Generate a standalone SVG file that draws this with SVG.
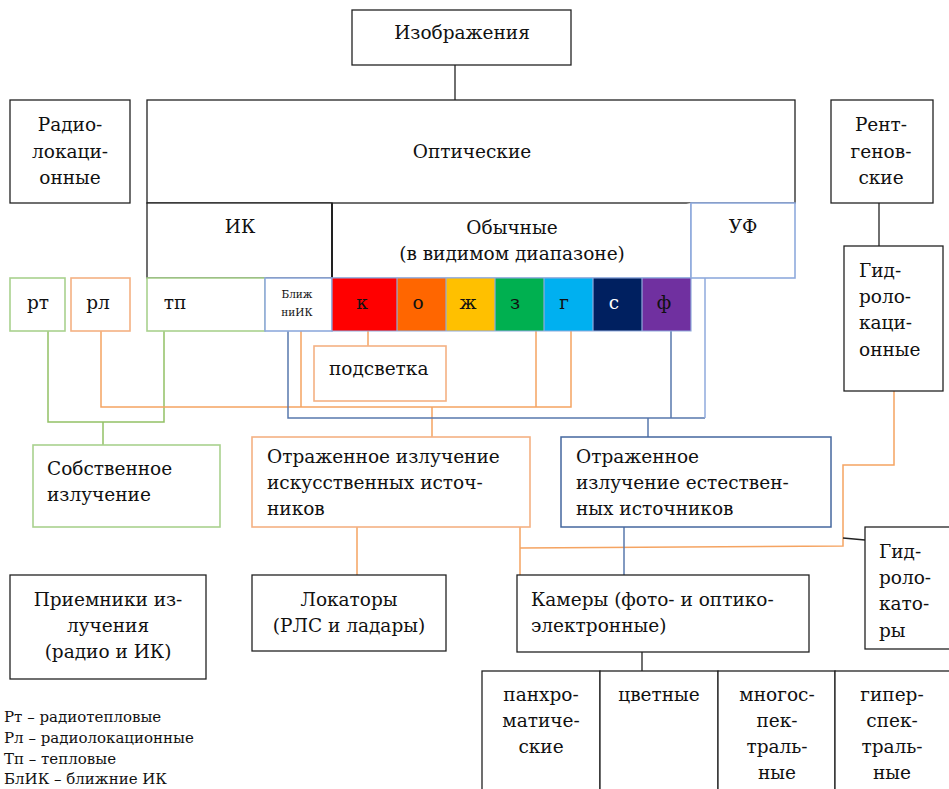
<svg xmlns="http://www.w3.org/2000/svg" width="949" height="789" viewBox="0 0 949 789">
  <style>
    text { font-family: 'DejaVu Serif', 'Liberation Serif', serif; font-size: 18.5px; fill: #111; }
    .c { text-anchor: middle; }
    .box { fill: #fff; stroke: #222; stroke-width: 1.3; }
    .gbox { fill: #fff; stroke: #A9D18E; stroke-width: 1.6; }
    .obox { fill: #fff; stroke: #F4B183; stroke-width: 1.6; }
    .bbox { fill: #fff; stroke: #8FAADC; stroke-width: 1.6; }
    .dbox { fill: #fff; stroke: #44679E; stroke-width: 1.5; }
    .gl { fill: none; stroke: #92C165; stroke-width: 1.5; }
    .ol { fill: none; stroke: #F5A462; stroke-width: 1.5; }
    .bl { fill: none; stroke: #5878AD; stroke-width: 1.5; }
    .bll { fill: none; stroke: #8FAADC; stroke-width: 1.5; }
    .kl { fill: none; stroke: #222; stroke-width: 1.3; }
    .small { font-size: 10.5px; }
    .leg { font-size: 15px; }
  </style>

  <!-- connectors -->
  <g id="connectors">
    <path class="kl" d="M455 65 V100"/>
    <path class="kl" d="M879 203 V246"/>
    <!-- own radiation -->
    <path class="gl" d="M48 331 V422 H164 V331 M103 422 V445"/>
    <!-- artificial sources -->
    <path class="ol" d="M101 331 V407 H571 V331 M301 331 V407 M536 331 V407 M368 331 V346 M432 407 V437"/>
    <!-- natural sources -->
    <path class="bl" d="M288 331 V418 H705 M671 331 V418 M648 418 V437"/>
    <path class="bll" d="M705 278 V418"/>
    <!-- to locators / cameras / hydro -->
    <path class="ol" d="M357 527 V575 M520 527 V575 M520 548 L843 546 V465 H894 V391"/>
    <path class="bl" d="M624 527 V575"/>
    <path class="kl" d="M843 538 L865 540"/>
    <path class="kl" d="M642 652 V671"/>
  </g>

  <g id="n-images">
    <rect class="box" x="352" y="10" width="219" height="55"/>
    <text class="c" x="462" y="39">Изображения</text>
  </g>

  <g id="n-optical">
    <rect class="box" x="147" y="100" width="648" height="103"/>
    <text class="c" x="472" y="158">Оптические</text>
  </g>

  <g id="n-radio">
    <rect class="box" x="10" y="100" width="120" height="103"/>
    <text class="c" x="70" y="131">Радио-</text>
    <text class="c" x="70" y="158">локаци-</text>
    <text class="c" x="70" y="184">онные</text>
  </g>

  <g id="n-xray">
    <rect class="box" x="831" y="100" width="102" height="103"/>
    <text class="c" x="881" y="131">Рент-</text>
    <text class="c" x="881" y="158">генов-</text>
    <text class="c" x="881" y="184">ские</text>
  </g>

  <g id="n-ir">
    <rect class="box" x="147" y="203" width="185" height="75"/>
    <text class="c" x="240" y="233">ИК</text>
  </g>

  <g id="n-visible">
    <path fill="#fff" stroke="#8FAADC" stroke-width="1.6" d="M332 278 H691 V203"/>
    <path fill="none" stroke="#222" stroke-width="2" d="M332 203 V278"/>
    <text class="c" x="512" y="234">Обычные</text>
    <text class="c" x="512" y="260">(в видимом диапазоне)</text>
  </g>

  <g id="n-uv">
    <rect class="bbox" x="691" y="203" width="104" height="75"/>
    <text class="c" x="743" y="233">УФ</text>
  </g>

  <g id="n-hydroloc">
    <rect class="box" x="844" y="246" width="99" height="145"/>
    <text x="859" y="277">Гид-</text>
    <text x="859" y="303">роло-</text>
    <text x="859" y="329">каци-</text>
    <text x="859" y="356">онные</text>
  </g>

  <g id="n-rt">
    <rect class="gbox" x="10" y="278" width="55" height="53"/>
    <text class="c" x="38" y="309">рт</text>
  </g>
  <g id="n-rl">
    <rect class="obox" x="71" y="278" width="59" height="53"/>
    <text class="c" x="98" y="309">рл</text>
  </g>
  <g id="n-tp">
    <rect class="gbox" x="147" y="278" width="118" height="53"/>
    <text class="c" x="175" y="309">тп</text>
  </g>
  <g id="n-nir">
    <rect class="bbox" x="265" y="278" width="67" height="53"/>
    <text class="c small" x="297" y="298">Ближ</text>
    <text class="c small" x="297" y="316">ниИК</text>
  </g>

  <!-- visible spectrum cells -->
  <g id="n-spectrum">
    <rect x="332" y="278" width="65" height="53" fill="#FF0000"/>
    <rect x="397" y="278" width="49" height="53" fill="#FF6600"/>
    <rect x="446" y="278" width="49" height="53" fill="#FFC000"/>
    <rect x="495" y="278" width="49" height="53" fill="#00B050"/>
    <rect x="544" y="278" width="49" height="53" fill="#00B0F0"/>
    <rect x="593" y="278" width="49" height="53" fill="#002060"/>
    <rect x="642" y="278" width="49" height="53" fill="#7030A0"/>
    <path fill="none" stroke="#8FAADC" stroke-width="1.2" d="M332 278 H691 V331 H332 Z M397 278 V331 M446 278 V331 M495 278 V331 M544 278 V331 M593 278 V331 M642 278 V331"/>
    <text class="c" x="362" y="309">к</text>
    <text class="c" x="418" y="309">о</text>
    <text class="c" x="468" y="309">ж</text>
    <text class="c" x="515" y="309">з</text>
    <text class="c" x="564" y="309">г</text>
    <text class="c" x="614" y="309" style="fill:#fff">с</text>
    <text class="c" x="664" y="309">ф</text>
  </g>

  <g id="n-backlight">
    <rect class="obox" x="314" y="346" width="132" height="55"/>
    <text x="329" y="375">подсветка</text>
  </g>

  <g id="n-own">
    <rect class="gbox" x="33" y="445" width="187" height="82"/>
    <text x="47" y="475">Собственное</text>
    <text x="47" y="501">излучение</text>
  </g>

  <g id="n-artificial">
    <rect class="obox" x="252" y="437" width="278" height="90"/>
    <text x="267" y="463">Отраженное излучение</text>
    <text x="267" y="489">искусственных источ-</text>
    <text x="267" y="515">ников</text>
  </g>

  <g id="n-natural">
    <rect class="dbox" x="561" y="437" width="270" height="90"/>
    <text x="576" y="463">Отраженное</text>
    <text x="576" y="489">излучение естествен-</text>
    <text x="576" y="515">ных источников</text>
  </g>

  <g id="n-receivers">
    <rect class="box" x="10" y="575" width="196" height="104"/>
    <text class="c" x="108" y="606">Приемники из-</text>
    <text class="c" x="108" y="632">лучения</text>
    <text class="c" x="108" y="658">(радио и ИК)</text>
  </g>

  <g id="n-locators">
    <rect class="box" x="252" y="575" width="194" height="76"/>
    <text class="c" x="349" y="606">Локаторы</text>
    <text class="c" x="349" y="632">(РЛС и ладары)</text>
  </g>

  <g id="n-cameras">
    <rect class="box" x="517" y="575" width="292" height="77"/>
    <text x="531" y="606">Камеры (фото- и оптико-</text>
    <text x="531" y="632">электронные)</text>
  </g>

  <g id="n-hydrolocators">
    <rect class="box" x="865" y="527" width="90" height="122"/>
    <text x="879" y="558">Гид-</text>
    <text x="879" y="584">роло-</text>
    <text x="879" y="610">като-</text>
    <text x="879" y="637">ры</text>
  </g>

  <g id="n-camera-types">
    <rect class="box" x="482" y="671" width="118" height="130"/>
    <rect class="box" x="600" y="671" width="118" height="130"/>
    <rect class="box" x="718" y="671" width="117" height="130"/>
    <rect class="box" x="835" y="671" width="120" height="130"/>
    <text class="c" x="541" y="701">панхро-</text>
    <text class="c" x="541" y="727">матиче-</text>
    <text class="c" x="541" y="753">ские</text>
    <text class="c" x="659" y="701">цветные</text>
    <text class="c" x="777" y="701">многос-</text>
    <text class="c" x="777" y="727">пек-</text>
    <text class="c" x="777" y="753">траль-</text>
    <text class="c" x="777" y="779">ные</text>
    <text class="c" x="892" y="701">гипер-</text>
    <text class="c" x="892" y="727">спек-</text>
    <text class="c" x="892" y="753">траль-</text>
    <text class="c" x="892" y="779">ные</text>
  </g>

  <g id="legend">
    <text class="leg" x="4" y="722">Рт – радиотепловые</text>
    <text class="leg" x="4" y="743">Рл – радиолокационные</text>
    <text class="leg" x="4" y="764">Тп – тепловые</text>
    <text class="leg" x="4" y="784">БлИК – ближние ИК</text>
  </g>
</svg>
